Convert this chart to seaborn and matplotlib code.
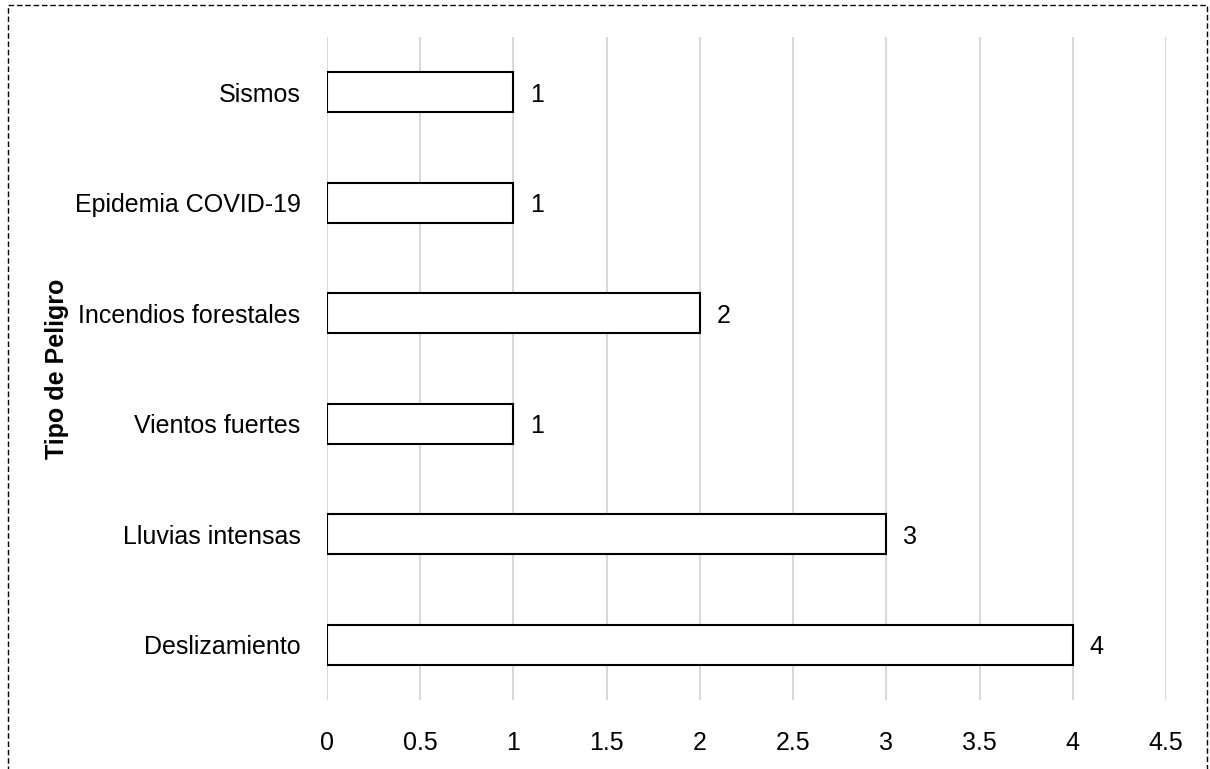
import matplotlib.pyplot as plt
import matplotlib.patches as mpatches
import seaborn as sns
import pandas as pd

peligros = ['Sismos', 'Epidemia COVID-19', 'Incendios forestales',
            'Vientos fuertes', 'Lluvias intensas', 'Deslizamiento']
cantidad = [1, 1, 2, 1, 3, 4]
ticks = [0, 0.5, 1, 1.5, 2, 2.5, 3, 3.5, 4, 4.5]
tick_labels = ['0', '0.5', '1', '1.5', '2', '2.5', '3', '3.5', '4', '4.5']

df = pd.DataFrame({'peligro': peligros, 'cantidad': cantidad})

sns.set_style('white')
plt.rcParams['font.family'] = ['Liberation Sans Narrow', 'Liberation Sans', 'DejaVu Sans']
plt.rcParams['text.color'] = 'black'
plt.rcParams['xtick.color'] = 'black'
plt.rcParams['ytick.color'] = 'black'
plt.rcParams['axes.labelcolor'] = 'black'

fig = plt.figure(figsize=(12.1, 7.69), dpi=100)
ax = fig.add_axes([0.2702, 0.0897, 0.6934, 0.8622])

sns.barplot(data=df, x='cantidad', y='peligro', order=peligros, orient='h',
            color='white', edgecolor='black', linewidth=1.5, width=0.36, ax=ax)

# etiquetas de valor
for i, v in enumerate(cantidad):
    ax.text(v + 0.09, i, str(v), va='center_baseline', ha='left', fontsize=18)

ax.set_xlim(0, 4.5)
ax.set_ylim(5.5, -0.5)
ax.set_xticks(ticks)
ax.set_xticklabels(tick_labels)
ax.xaxis.grid(True, color='#d9d9d9', linewidth=1.5)
ax.set_axisbelow(True)
for s in ax.spines.values():
    s.set_visible(False)
ax.tick_params(axis='x', length=0, pad=22, labelsize=18)
ax.tick_params(axis='y', length=0, pad=19, labelsize=18)
ax.set_xlabel('')
ax.set_ylabel('Tipo de Peligro', fontsize=18, fontweight='bold')
ax.yaxis.set_label_coords(-0.308, 0.5)

# borde punteado del recuadro
border = mpatches.Rectangle((8 / 1210, -0.1), 1199 / 1210, 1.1 - 5 / 769,
                            transform=fig.transFigure, fill=False,
                            edgecolor='black', linestyle=(0, (4, 2)), linewidth=1)
fig.patches.append(border)

fig.savefig('out.png', dpi=100)
